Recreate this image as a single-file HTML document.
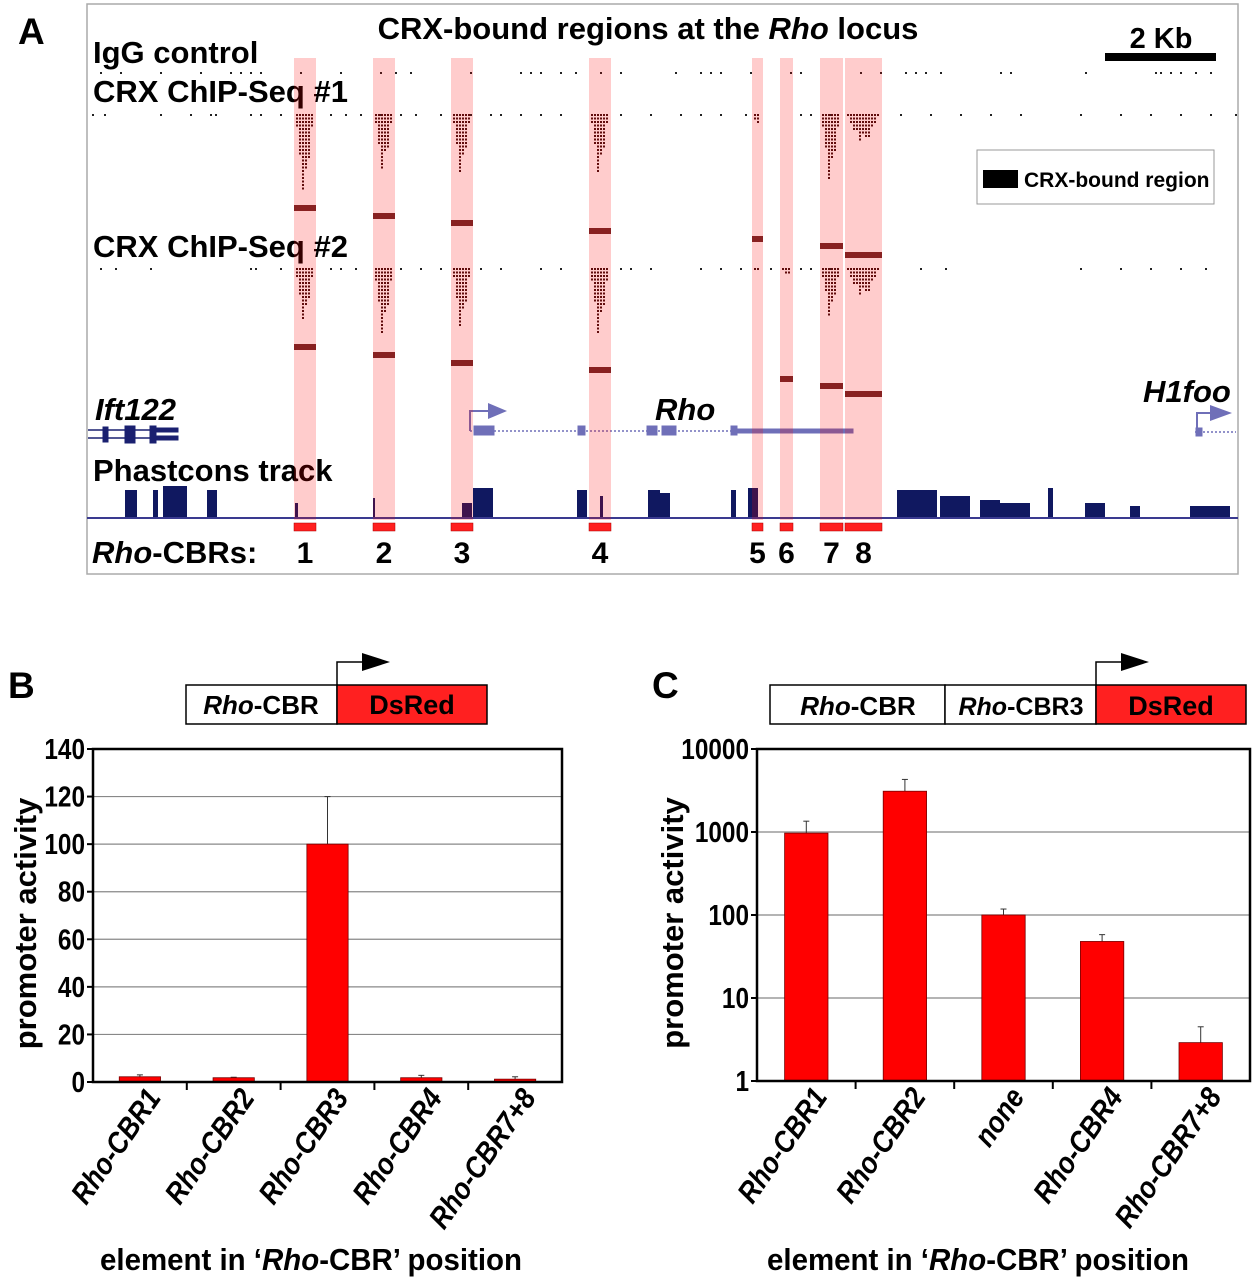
<!DOCTYPE html>
<html><head><meta charset="utf-8"><style>
body{margin:0;background:#fff}
svg{display:block;font-family:"Liberation Sans",Arial,sans-serif;font-weight:bold}
</style></head><body>
<svg id="fig" width="1259" height="1280" viewBox="0 0 1259 1280">
<g id="panelA">
<rect x="87" y="4" width="1151" height="570" fill="#fff" stroke="#aaa" stroke-width="1.5"/>
<text x="18" y="44" font-size="37">A</text>
<text x="648" y="39" font-size="31" text-anchor="middle">CRX-bound regions at the <tspan font-style="italic">Rho</tspan> locus</text>
<text x="1161" y="48" font-size="29" text-anchor="middle">2 Kb</text>
<rect x="1105" y="53" width="111" height="8" fill="#000"/>
<text x="93" y="63" font-size="31">IgG control</text>
<text x="93" y="102" font-size="31">CRX ChIP-Seq #1</text>
<text x="93" y="257" font-size="31">CRX ChIP-Seq #2</text>
<rect x="977" y="150" width="237" height="54" fill="#fff" stroke="#999"/>
<rect x="983" y="170" width="35" height="18" fill="#000"/>
<text x="1024" y="187" font-size="21">CRX-bound region</text>
<g id="reads"></g>
<g id="peaks"></g>
<text x="95" y="420" font-size="31" font-style="italic">Ift122</text>
<g fill="#1a2070" stroke="#1a2070">
<line x1="88" y1="430" x2="178" y2="430" stroke-width="1.5"/><line x1="88" y1="438" x2="178" y2="438" stroke-width="1.5"/>
<rect x="103" y="427" width="5" height="15"/><rect x="125" y="426" width="10" height="17"/><rect x="150" y="426" width="6" height="17"/><rect x="156" y="428" width="22" height="4"/><rect x="156" y="436" width="22" height="4"/>
</g>
<text x="655" y="420" font-size="31" font-style="italic">Rho</text>
<g fill="#6f6fb8" stroke="#6f6fb8">
<line x1="470" y1="431" x2="733" y2="431" stroke-width="1.5" stroke-dasharray="2 2"/>
<rect x="733" y="429" width="120" height="4"/>
<rect x="474" y="426" width="20" height="9"/><rect x="578" y="426" width="7" height="9"/><rect x="647" y="426" width="10" height="9"/><rect x="662" y="426" width="14" height="9"/><rect x="731" y="426" width="6" height="9"/>
<polyline points="470,431 470,411 490,411" fill="none" stroke-width="2"/><polygon points="488,403 507,411 488,419" stroke="none"/>
</g>
<text x="1143" y="402" font-size="31" font-style="italic">H1foo</text>
<g fill="#6f6fb8" stroke="#6f6fb8">
<line x1="1195" y1="432" x2="1236" y2="432" stroke-width="1.5" stroke-dasharray="2 2"/><rect x="1196" y="428" width="6" height="8"/>
<polyline points="1197,432 1197,413 1212,413" fill="none" stroke-width="2"/><polygon points="1210,405 1232,413 1210,421" stroke="none"/>
</g>
<text x="93" y="481" font-size="31">Phastcons track</text>
<g id="phast" fill="#101860"></g>
<line x1="87" y1="518" x2="1238" y2="518" stroke="#3a3a90" stroke-width="2"/>
<g id="pink"></g>
<text x="92" y="563" font-size="31"><tspan font-style="italic">Rho</tspan>-CBRs:</text>
</g>
<g>
<text x="8" y="698" font-size="37">B</text>
<rect x="186" y="685" width="151" height="39" fill="#fff" stroke="#000" stroke-width="1.5"/>
<rect x="337" y="685" width="150" height="39" fill="#ff2020" stroke="#000" stroke-width="1.5"/>
<text x="261" y="714" font-size="26" text-anchor="middle"><tspan font-style="italic">Rho</tspan>-CBR</text>
<text x="412" y="714" font-size="27" text-anchor="middle">DsRed</text>
<polyline points="337,685 337,662 365,662" fill="none" stroke="#000" stroke-width="1.5"/>
<polygon points="362,653 390,662 362,671" fill="#000"/>
<g id="chartB"></g>
</g>
<g>
<text x="652" y="698" font-size="37">C</text>
<rect x="770" y="685" width="175" height="39" fill="#fff" stroke="#000" stroke-width="1.5"/>
<rect x="945" y="685" width="151" height="39" fill="#fff" stroke="#000" stroke-width="1.5"/>
<rect x="1096" y="685" width="150" height="39" fill="#ff2020" stroke="#000" stroke-width="1.5"/>
<text x="858" y="715" font-size="26" text-anchor="middle"><tspan font-style="italic">Rho</tspan>-CBR</text>
<text x="1021" y="715" font-size="25" text-anchor="middle"><tspan font-style="italic">Rho</tspan>-CBR3</text>
<text x="1171" y="715" font-size="27" text-anchor="middle">DsRed</text>
<polyline points="1096,685 1096,662 1124,662" fill="none" stroke="#000" stroke-width="1.5"/>
<polygon points="1121,653 1149,662 1121,671" fill="#000"/>
<g id="chartC"></g>
</g>
</svg>
<script>
const cbrNames = ["1","2","3","4","5","6","7","8"];
const cbrStart = [294,373,451,589,752,780,820,845];
const cbrEnd = [316,395,473,611,763,793,843,882];
const chip1PeakY = [205,213,220,228,236,null,243,252];
const chip2PeakY = [344,352,360,367,null,376,383,391];
const chip1Depth = [26,19,20,20,5,0,22,10];
const chip2Depth = [18,22,20,22,2,3,16,10];
const phastX = [125,153,163,207,295,373,462,473,577,600,648,660,731,748,897,940,980,1000,1048,1085,1130,1190];
const phastW = [12,5,24,10,3,2,10,20,10,3,12,10,5,10,40,30,20,30,5,20,10,40];
const phastH = [28,28,32,28,15,20,15,30,28,22,28,25,28,30,28,22,18,15,30,15,12,12];
const bgDotsIgG = [100,120,160,200,230,240,250,260,300,340,380,395,410,470,520,530,540,560,575,600,620,675,700,710,720,750,790,800,860,880,905,915,925,940,1000,1010,1085,1155,1160,1170,1180,1195,1210];
const bgDots1 = [92,104,160,190,210,215,250,260,280,330,345,360,380,400,415,440,470,490,500,520,540,560,620,650,680,700,720,745,800,810,830,900,930,960,990,1020,1080,1120,1150,1180,1210,1235];
const bgDots2 = [100,115,150,250,255,280,330,340,355,400,420,440,480,500,540,560,620,630,650,700,720,740,770,800,810,830,920,945,1080,1120,1150,1180,1205];

const NS='http://www.w3.org/2000/svg';
function mk(tag, attrs, parent){const e=document.createElementNS(NS,tag);for(const k in attrs)e.setAttribute(k,attrs[k]);parent.appendChild(e);return e;}
const reads=document.getElementById('reads');
function bgRow(xs,y){xs.forEach(x=>{const r=mk('rect',{x:x,y:y,width:2,height:2,fill:'#222'},reads);

});}
bgRow(bgDotsIgG,72);bgRow(bgDots1,114);bgRow(bgDots2,268);
function pile(depths,y0){
  depths.forEach((d,i)=>{
    const s=cbrStart[i]+2,e=cbrEnd[i]-2,cols=Math.max(1,Math.floor((e-s)/3));
    for(let c=0;c<cols;c++){
      const mid=(cols-1)/2,rel=1-Math.abs(c-mid)/(mid+1);
      const h=Math.round(d*rel*(0.6+0.4*((c*7)%5)/4));
      for(let k=0;k<h;k++){const r=mk('rect',{x:s+c*3,y:y0+k*3.5,width:2,height:2,fill:'#3a1010'},reads);
      
      }
    }
  });
}
pile(chip1Depth,114);pile(chip2Depth,268);
const peaks=document.getElementById('peaks');
function peakRow(ys,nm){ys.forEach((y,i)=>{if(y===null)return;const r=mk('rect',{x:cbrStart[i],y:y,width:cbrEnd[i]-cbrStart[i],height:6,fill:'#6b2a2a'},peaks);

});}
peakRow(chip1PeakY,'chip1-peak');peakRow(chip2PeakY,'chip2-peak');
const phast=document.getElementById('phast');
phastX.forEach((x,i)=>{const r=mk('rect',{x:x,y:518-phastH[i],width:phastW[i],height:phastH[i]},phast);

});
const pink=document.getElementById('pink');
cbrStart.forEach((s,i)=>{
  const p=mk('rect',{x:s,y:58,width:cbrEnd[i]-s,height:462,fill:'#ff0000','fill-opacity':0.2},pink);
  
  
  const b=mk('rect',{x:s,y:523,width:cbrEnd[i]-s,height:8,fill:'#ff2020',stroke:'#a00','stroke-width':0.5},pink);
  
  
  const t=mk('text',{x:(s+cbrEnd[i])/2,y:563,'font-size':30,'text-anchor':'middle'},pink);t.textContent=cbrNames[i];
  
  
});

const catsB = ["1","2","3","4","7+8"];
const valsB = [2.2,1.8,100,1.8,1.2];
const errB = [3.0,2.0,120,2.8,2.2];
const ticksB = [0,20,40,60,80,100,120,140];
const catsC = ["Rho-CBR1","Rho-CBR2","none","Rho-CBR4","Rho-CBR7+8"];
const valsC = [970,3100,100,48,2.9];
const errC = [1350,4300,118,58,4.5];
const ticksC = [1,10,100,1000,10000];

function chart(g,L,R,T,B,cats,vals,errs,ticks,yfn,title,titleX,xTitleX){
  const n=cats.length,bw=(R-L)/n;
  ticks.forEach(t=>{const y=yfn(t);
    if(y>T+1&&y<B-1){const gl=mk('line',{x1:L,x2:R,y1:y,y2:y,stroke:'#888','stroke-width':1.2},g);
    
    }
    const tk=mk('line',{x1:L-6,x2:L,y1:y,y2:y,stroke:'#000','stroke-width':2},g);
    
    
    const tx=mk('text',{'font-size':29,'text-anchor':'end',transform:`translate(${L-8},${y+10}) scale(0.84,1)`},g);tx.textContent=t;
    
    
  });
  vals.forEach((v,i)=>{
    const cx=L+bw*(i+0.5),w=bw*0.44,y=yfn(v);
    const ey=yfn(errs[i]);
    const el=mk('line',{x1:cx,x2:cx,y1:ey,y2:y,stroke:'#333','stroke-width':1},g);
    
    
    const ec=mk('line',{x1:cx-3,x2:cx+3,y1:ey,y2:ey,stroke:'#333','stroke-width':1},g);
    
    
    const r=mk('rect',{x:cx-w/2,y:y,width:w,height:B-y,fill:'#ff0000',stroke:'#700','stroke-width':0.8},g);
    
    
    if(i>0){const t=mk('line',{x1:L+bw*i,x2:L+bw*i,y1:B,y2:B+8,stroke:'#000','stroke-width':2},g);
    
    }
    const lbl=mk('text',{'font-size':30,'font-style':'italic','text-anchor':'end',transform:`translate(${cx+22},${B+16}) rotate(-55) scale(0.88,1)`},g);
    
    
    lbl.textContent = cats[i];
  });
  const fr=mk('rect',{x:L,y:T,width:R-L,height:B-T,fill:'none',stroke:'#000','stroke-width':2.5},g);
  
  
  const yt=mk('text',{'font-size':31,'text-anchor':'middle',transform:`translate(${titleX},${(T+B)/2+8}) rotate(-90)`},g);
  yt.textContent=title;
  
  
  const xt=mk('text',{'font-size':31,'text-anchor':'middle',transform:`translate(${xTitleX},1270) scale(0.95,1)`},g);
  xt.innerHTML='element in ‘<tspan font-style="italic">Rho</tspan>-CBR’ position';
  
  
}
const gB=document.getElementById('chartB');
const BL=93,BR=562,BT=749,BB=1082;
chart(gB,BL,BR,BT,BB,catsB.map(c=>'Rho-CBR'+c),valsB,errB,ticksB,v=>BB-(v/140)*(BB-BT),'promoter activity',36,311);
const gC=document.getElementById('chartC');
const CL=757,CR=1250,CT=749,CB=1081;
chart(gC,CL,CR,CT,CB,catsC,valsC,errC,ticksC,v=>CB-(Math.log10(v)/4)*(CB-CT),'promoter activity',683,978);
</script>
</body></html>
